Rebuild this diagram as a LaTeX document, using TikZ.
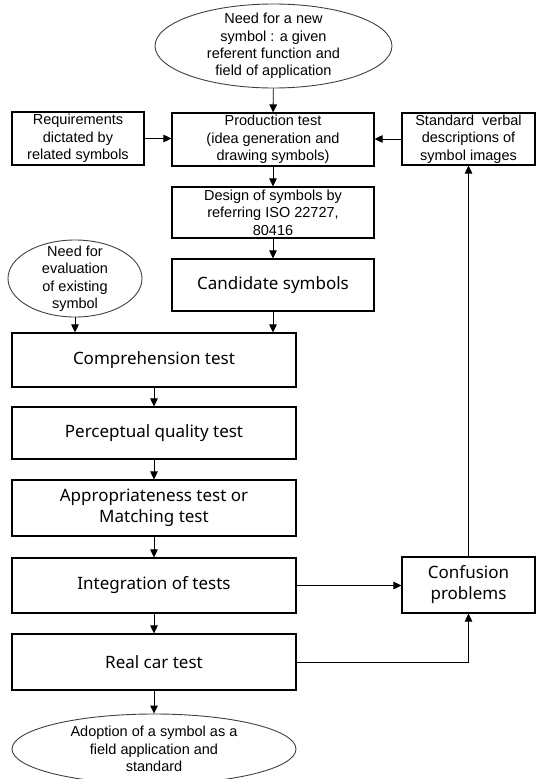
\documentclass[tikz,border=0pt]{standalone}
\usepackage{fontspec}
\setmainfont{Liberation Sans}
\newfontfamily\bigfont{Noto Sans}
\usetikzlibrary{
  shapes.geometric,
  arrows.meta,
}

\begin{document}
\begin{tikzpicture}[x=1pt,y=-1pt,
  box/.style={draw,line width=1.1pt,align=center,inner sep=0pt,
    font=\fontsize{14.5}{17.5}\selectfont},
  bigbox/.style={box,font=\bigfont\fontsize{17}{21}\selectfont},
  oval/.style={draw=black!75,ellipse,line width=0.9pt,inner sep=0pt},
  ovaltext/.style={align=center,font=\fontsize{14.5}{17.5}\selectfont},
  arr/.style={-{Triangle[length=8pt,width=7.5pt]},line width=0.9pt},
]
\useasboundingbox (0,0) rectangle (538,779);

% top row
\node[oval,minimum width=237,minimum height=84,
  label={[ovaltext]center:{Need for a new\\symbol : a given\\referent function and\\field of application}}]
  (need) at (273.5,46) {};
\node[box,minimum width=132,minimum height=53] (req) at (78,138.5)
  {Requirements\\dictated by\\related symbols};
\node[box,minimum width=202,minimum height=53] (prod) at (273,139.5)
  {Production test\\(idea generation and\\drawing symbols)};
\node[box,minimum width=133,minimum height=52] (std) at (468.5,139)
  {Standard \ verbal\\descriptions of\\symbol images};
\node[box,minimum width=202,minimum height=51] (design) at (273,212.5)
  {Design of symbols by\\referring ISO 22727,\\80416};
\node[bigbox,minimum width=202,minimum height=52] (cand) at (273,285)
  {Candidate symbols};
\node[oval,minimum width=134,minimum height=77,
  label={[ovaltext]center:{Need for\\evaluation\\of existing\\symbol}}]
  (exist) at (75,278.5) {};

% test chain
\node[bigbox,minimum width=284,minimum height=54] (comp) at (154,360)
  {Comprehension test};
\node[bigbox,minimum width=284,minimum height=52] (perc) at (154,433)
  {Perceptual quality test};
\node[bigbox,minimum width=284,minimum height=56] (appr) at (154,508)
  {Appropriateness test or\\Matching test};
\node[bigbox,minimum width=284,minimum height=55] (integ) at (154,585.5)
  {Integration of tests};
\node[bigbox,minimum width=284,minimum height=56] (real) at (154,662)
  {Real car test};
\node[bigbox,minimum width=133,minimum height=56] (conf) at (468.5,585)
  {Confusion\\problems};
\node[oval,minimum width=284,minimum height=70,
  label={[ovaltext]center:{Adoption of a symbol as a\\field application and\\standard}}]
  (adopt) at (154,749) {};

% connectors
\draw[arr] (need) -- (prod);
\draw[arr] (req) -- (req -| prod.west);
\draw[arr] (std) -- (std -| prod.east);
\draw[arr] (prod) -- (design);
\draw[arr] (design) -- (cand);
\draw[arr] (exist) -- (exist |- comp.north);
\draw[arr] (cand) -- (cand |- comp.north);
\foreach \a/\b in {comp/perc,perc/appr,appr/integ,integ/real,real/adopt}
  \draw[arr] (\a) -- (\b);
\draw[arr] (integ) -- (integ -| conf.west);
\draw[arr] (real.east) -| (conf.south);
\draw[arr] (conf) -- (std);
\end{tikzpicture}
\end{document}
